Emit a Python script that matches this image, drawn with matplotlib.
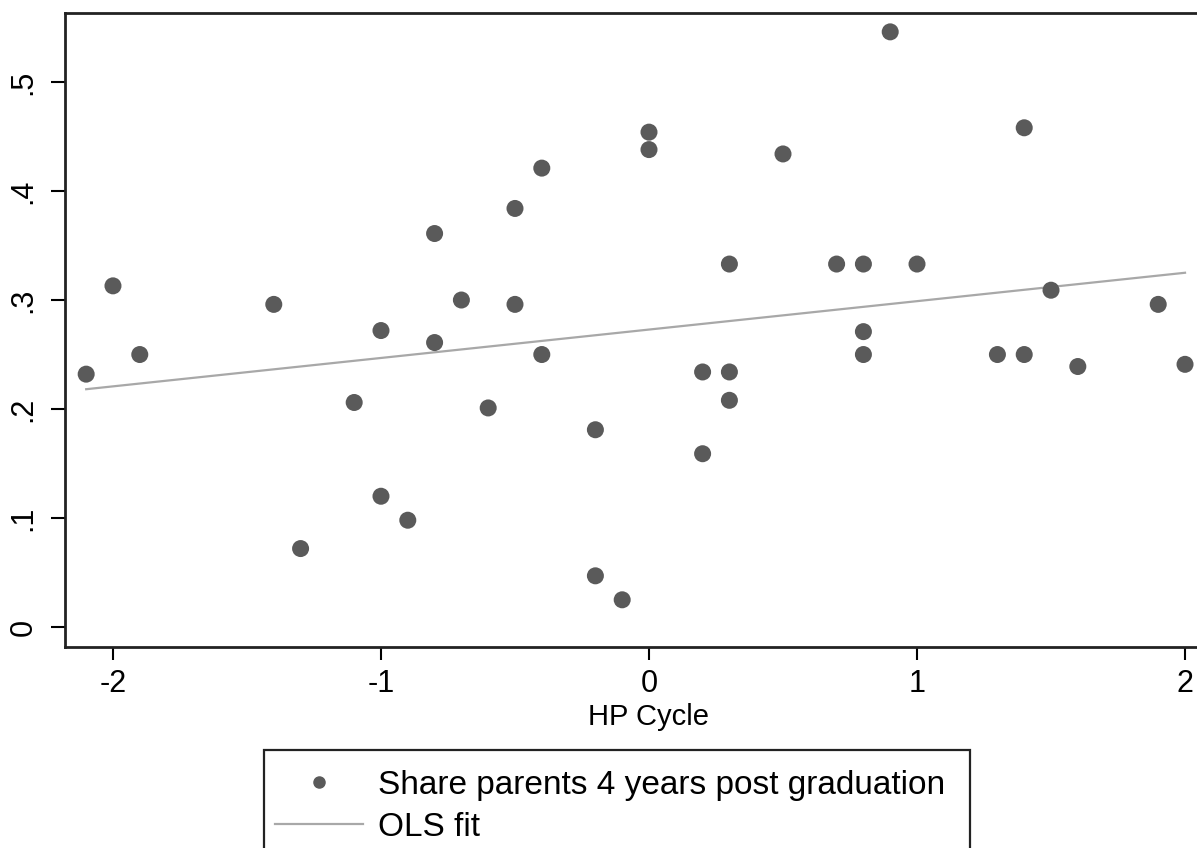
import numpy as np
import matplotlib
matplotlib.use('Agg')
import matplotlib.pyplot as plt
from matplotlib.lines import Line2D
from matplotlib.patches import Rectangle

# data
hp_cycle = [-2.1, -2.0, -1.9, -1.4, -1.3, -1.1, -1.0, -1.0, -0.9, -0.8,
            -0.8, -0.7, -0.6, -0.5, -0.5, -0.4, -0.4, -0.2, -0.2, -0.1,
            0.0, 0.0, 0.2, 0.2, 0.3, 0.3, 0.3, 0.5, 0.7, 0.8,
            0.8, 0.8, 0.9, 1.0, 1.3, 1.4, 1.4, 1.5, 1.6, 1.9, 2.0]
share_parents = [0.232, 0.313, 0.250, 0.296, 0.072, 0.206, 0.272, 0.120, 0.098, 0.361,
                 0.261, 0.300, 0.201, 0.384, 0.296, 0.421, 0.250, 0.181, 0.047, 0.025,
                 0.454, 0.438, 0.234, 0.159, 0.333, 0.234, 0.208, 0.434, 0.333, 0.333,
                 0.271, 0.250, 0.546, 0.333, 0.250, 0.458, 0.250, 0.309, 0.239, 0.296, 0.241]

x_ticks = [-2, -1, 0, 1, 2]
x_tick_labels = ['-2', '-1', '0', '1', '2']
y_ticks = [0, 0.1, 0.2, 0.3, 0.4, 0.5]
y_tick_labels = ['0', '.1', '.2', '.3', '.4', '.5']

plt.rcParams['font.family'] = ['Liberation Sans', 'DejaVu Sans']

dot_color = '#5a5a5a'
fit_color = '#a8a8a8'

W, H = 1197, 848
fig = plt.figure(figsize=(W / 100, H / 100), dpi=100)
ax = fig.add_axes([65 / W, 1 - 647 / H, (1233 - 65) / W, (647 - 13) / H])

x = np.asarray(hp_cycle)
y = np.asarray(share_parents)

# OLS fit
slope, intercept = np.polyfit(x, y, 1)
xf = np.array([x.min(), x.max()])
ax.plot(xf, intercept + slope * xf, color=fit_color, lw=1.6, zorder=2)

ax.scatter(x, y, s=150, color=dot_color, edgecolors='none', zorder=3)

ax.set_xlim(-2.179, 2.179)
ax.set_ylim(-0.0183, 0.5633)

ax.set_xticks(x_ticks)
ax.set_xticklabels(x_tick_labels)
ax.set_yticks(y_ticks)
ax.set_yticklabels(y_tick_labels, rotation=90, va='center')

ax.tick_params(axis='x', length=9, width=1.5, pad=7, labelsize=22)
ax.tick_params(axis='y', length=10, width=1.5, pad=9, labelsize=22)

for sp in ax.spines.values():
    sp.set_linewidth(2)
    sp.set_color('#222222')

ax.set_xlabel('HP Cycle', fontsize=21, labelpad=3)

# legend box below the plot
fig.patches.append(Rectangle((264 / W, -0.05), (970 - 264) / W, 0.05 + 1 - 750 / H,
                             transform=fig.transFigure, fill=False,
                             edgecolor='#222222', lw=1.6))

handles = [Line2D([], [], ls='none', marker='o', markersize=8, color=dot_color),
           Line2D([], [], color=fit_color, lw=1.6)]
labels = ['Share parents 4 years post graduation', 'OLS fit']
fig.legend(handles, labels, loc='upper left', bbox_to_anchor=(275 / W, 1 - 770 / H),
           frameon=False, fontsize=24, handlelength=2.65, handletextpad=0.45,
           borderpad=0, borderaxespad=0, labelspacing=0.33)

fig.savefig('out.png', dpi=100)
